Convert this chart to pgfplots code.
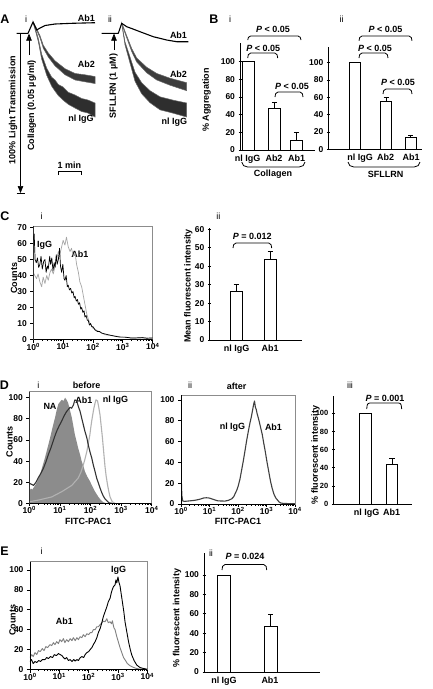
\documentclass[border=0pt]{standalone}
\usepackage{pgfplots}
\pgfplotsset{compat=1.18}
\usepackage{pgfplotstable}
\usepackage{fontspec}
\setmainfont{Liberation Sans}
\usetikzlibrary{arrows.meta}

% ---------- histogram data (lx = log10 of fluorescence, v = counts) ----------
\pgfplotstableread{
lx v
0 62
0.03 66
0.06 50
0.10 48
0.14 51
0.18 45
0.22 47
0.26 52
0.30 44
0.35 49
0.39 50
0.43 42
0.47 46
0.50 44
0.55 52
0.58 47
0.62 51
0.66 43
0.70 48
0.73 45
0.77 53
0.80 47
0.84 50
0.88 57
0.91 46
0.95 42
0.99 47
1.03 38
1.06 37
1.10 40
1.14 33
1.17 34
1.21 31
1.25 32
1.29 29
1.33 30
1.37 26
1.40 27
1.44 24
1.48 25
1.51 22
1.55 23
1.59 19
1.62 20
1.66 17
1.70 18
1.73 14
1.77 15
1.81 12
1.84 12
1.88 9
1.92 10
1.96 8
2.00 8
2.07 6
2.15 5
2.22 5
2.29 4
2.40 3.5
2.50 3
2.63 2.5
2.75 2
2.90 1.5
3.07 1.5
3.25 1
3.45 1
3.65 1.2
3.80 0.8
4.00 1
}\CiIgG
\pgfplotstableread{
lx v
0 42
0.05 40
0.11 38
0.16 41
0.22 36
0.28 33
0.33 39
0.39 35
0.45 40
0.50 37
0.56 42
0.61 44
0.67 41
0.73 46
0.78 50
0.84 55
0.89 53
0.95 58
1.00 62
1.06 59
1.11 64
1.17 58
1.23 55
1.28 57
1.34 52
1.40 54
1.45 47
1.51 42
1.56 36
1.62 33
1.68 27
1.73 22
1.79 16
1.84 13
1.90 10
2.00 7
2.10 6
2.20 5
2.40 3
2.60 2.5
2.80 2
3.00 1.5
3.30 1
3.60 1
4.00 0.8
}\CiAb
\pgfplotstableread{
lx v
0 11
0.05 14
0.10 13
0.19 17
0.27 21
0.35 27
0.43 35
0.51 43
0.60 53
0.68 62
0.76 72
0.84 81
0.90 89
0.95 94
1.00 96
1.06 98
1.12 97
1.17 100
1.22 98
1.27 95
1.33 88
1.39 81
1.44 73
1.49 65
1.55 58
1.60 52
1.66 46
1.71 40
1.77 35
1.82 30
1.90 25
1.98 21
2.06 16
2.15 11
2.26 6
2.34 3
2.42 1
2.53 0
}\DiNA
\pgfplotstableread{
lx v
0 19
0.07 18
0.14 17
0.22 20
0.29 24
0.37 28
0.46 33
0.54 39
0.62 46
0.70 52
0.78 59
0.84 64
0.89 68
0.97 73
1.06 78
1.14 83
1.22 87
1.28 89
1.33 91
1.38 90
1.44 93
1.49 98
1.55 97
1.60 92
1.66 87
1.71 81
1.76 75
1.82 68
1.88 62
1.93 55
1.98 49
2.04 43
2.09 36.5
2.15 30
2.20 24
2.26 19
2.31 14.6
2.37 10
2.42 6.7
2.48 4
2.53 2.5
2.60 0.5
2.70 0
}\DiAb
\pgfplotstableread{
lx v
0 1.5
0.29 3
0.73 6
1.06 11
1.39 17
1.60 24
1.68 29
1.76 36
1.82 42
1.88 49
1.93 57
1.98 65
2.01 72
2.04 78
2.08 85
2.11 90
2.15 95
2.18 98
2.23 97
2.27 91
2.31 84
2.35 73
2.39 62
2.43 49
2.47 36
2.51 26
2.56 17
2.60 11
2.64 6
2.71 1.5
2.80 0
}\DiIgG
\pgfplotstableread{
lx v
0 1.5
0.01 24
0.03 8
0.06 3
0.12 2.5
0.30 3
0.47 3.5
0.60 4.2
0.71 5
0.80 5.8
0.89 6
0.98 5.8
1.07 5
1.20 3.8
1.30 3
1.54 2.8
1.66 3.5
1.78 5
1.85 7
1.90 10
1.96 13.5
2.01 17.6
2.07 24
2.13 33
2.19 42
2.25 52
2.31 62
2.37 71
2.42 78
2.47 84
2.51 90
2.55 96
2.58 99
2.61 93
2.64 91
2.67 87
2.73 81
2.79 74
2.85 67
2.90 59
2.96 50
3.02 40
3.08 31
3.14 22
3.20 15
3.26 9.6
3.32 6
3.38 4
3.44 2
3.50 1
3.60 0.5
4.00 0.3
}\Dii
\pgfplotstableread{
lx v
0 8
0.05 10
0.11 6
0.17 8
0.23 7
0.30 9
0.36 8
0.42 10
0.51 10
0.57 12
0.63 11
0.70 13
0.77 12
0.83 15
0.90 14
0.97 16
1.03 15
1.09 14
1.14 12
1.19 10.6
1.25 12
1.31 9
1.37 10
1.43 8
1.49 10
1.54 8.5
1.60 10
1.65 9
1.71 11.8
1.77 13
1.83 12
1.88 15
1.94 17
2.00 18
2.05 20
2.11 22
2.16 25
2.22 28
2.28 32
2.33 37
2.39 41
2.45 47
2.50 53
2.56 58
2.62 63
2.67 68
2.73 71.5
2.78 78
2.84 83
2.90 85
2.93 90
2.96 87
3.00 93
3.03 88
3.07 84
3.11 76
3.15 68
3.20 58
3.24 48
3.30 38
3.36 28
3.42 20
3.47 14.6
3.55 9
3.64 4.5
3.75 2
3.87 1
4.00 0.3
}\EiIgG
\pgfplotstableread{
lx v
0 12
0.06 15
0.11 13
0.17 17
0.23 15
0.29 19
0.35 18
0.42 21
0.48 19
0.54 23
0.60 22
0.68 25
0.74 24
0.80 27
0.85 25
0.91 28
0.97 26
1.02 30
1.08 28
1.14 31
1.19 27
1.25 30
1.31 28
1.37 31
1.43 29
1.48 32
1.54 29
1.60 32
1.65 30
1.71 33
1.77 32
1.82 35
1.88 33
1.94 36
2.00 35
2.05 37
2.11 37
2.16 40
2.22 40
2.28 43
2.33 43
2.39 45
2.45 47
2.50 48.6
2.56 48
2.62 51
2.67 47
2.73 48
2.78 46
2.81 49
2.86 42
2.90 40
2.96 33
3.01 28
3.07 22
3.13 17
3.19 12
3.24 9.8
3.32 6
3.41 3.8
3.50 2.5
3.58 1.5
3.70 0.6
3.85 0.2
}\EiAb

\pgfplotsset{
  mybase/.style={scale only axis, anchor=south west,
    tick label style={font=\fontsize{8.5}{9}\selectfont\bfseries, /pgf/number format/assume math mode=true},
    tick style={black, line width=0.7pt},
    tick align=outside,
    major tick length=3pt, minor tick length=1.6pt},
  myhist/.style={mybase, xmin=0, xmax=4, ymin=0,
    xtick={0,1,2,3,4},
    xticklabels={10\textsuperscript{0},10\textsuperscript{1},10\textsuperscript{2},10\textsuperscript{3},10\textsuperscript{4}},
    minor xtick={0.301,0.477,0.602,0.699,0.778,0.845,0.903,0.954,
      1.301,1.477,1.602,1.699,1.778,1.845,1.903,1.954,
      2.301,2.477,2.602,2.699,2.778,2.845,2.903,2.954,
      3.301,3.477,3.602,3.699,3.778,3.845,3.903,3.954},
    xtick pos=left, ytick pos=left,
    every x tick label/.append style={yshift=3pt},
    axis line style={black!45, line width=0.6pt}},
  mybarax/.style={mybase, axis x line=bottom, axis y line=left,
    axis line style={-, line width=0.9pt}, ymin=0,
    every x tick label/.append style={font=\fontsize{9}{10}\selectfont\bfseries},
    major x tick style={draw=none}, ytick={0,20,...,100}},
  mybars/.style={ybar, fill=white, draw=black, line width=0.9pt,
    error bars/y dir=plus, error bars/y explicit,
    error bars/error bar style={line width=0.8pt, black},
    error bars/error mark options={rotate=90, mark size=2.6pt, line width=0.8pt, black}},
}
\tikzset{
  lab/.style={font=\fontsize{9}{10}\selectfont\bfseries, inner sep=0pt},
  sml/.style={font=\fontsize{9}{10}\selectfont, inner sep=0pt},
  pan/.style={font=\fontsize{12.5}{13}\selectfont\bfseries, inner sep=0pt},
}
\newcommand{\brk}[4]{\draw[line width=0.8pt] (#1,#3+#4) to[out=90,in=180] (#1+3,#3) -- (#2-3,#3) to[out=0,in=90] (#2,#3+#4);}
\newcommand{\brc}[3]{\draw[line width=0.8pt] (#1,#3-5) to[out=-90,in=180] (#1+6,#3) -- (#2-6,#3) to[out=0,in=-90] (#2,#3-5);}

\begin{document}
\begin{tikzpicture}
\useasboundingbox (0,0) rectangle (432pt,-689pt);
\fill[white] (0,0) rectangle (432pt,-689pt);

% ================= canvas axis (pixel coordinates) =================
\begin{axis}[scale only axis, at={(0pt,0pt)}, anchor=north west,
  width=432pt, height=689pt, xmin=0, xmax=432, ymin=0, ymax=689,
  y dir=reverse, hide axis, clip=false]
\addplot[fill=black!82, draw=black!60, line width=0.5pt] coordinates {
(33,21.5) (35.5,29) (38.3,38.5) (41.7,54.2) (46.7,68.2) (51.7,77.2) (55,80) (58.3,84.5) (63,87) (68.3,92.3) (75,95) (81.7,98.5) (88,100) (95,103)
(95,117) (88,113) (81.7,111.5) (75,108) (68.3,104.3) (63,100) (58.3,95.5) (55,91) (51.7,86.2) (46.7,75.2) (41.7,59.2) (38.3,41.5) (35.5,31) (33,22.5)} -- cycle;
\addplot[fill=black!78, draw=black!60, line width=0.5pt] coordinates {
(33,21.5) (36,27.25) (40,35.7) (43.3,45.2) (48.3,53) (55,60.8) (65,68.7) (75,73.45) (85,74.8) (95,76.5)
(95,83.5) (85,81.8) (75,79.95) (65,74.7) (55,65.8) (48.3,57) (43.3,48.2) (40,37.7) (36,28.75) (33,22.5)} -- cycle;
\addplot[black, line width=1.1pt, line join=round] coordinates {
(16.7,33.3) (28,33.3) (33,22) (36.7,30) (40,28) (45,25.5) (55,24) (71.7,23.3) (95,22.7)};
\addplot[fill=black!82, draw=black!60, line width=0.5pt] coordinates {
(121.7,22.8) (125,41.8) (130,57) (135,72.2) (141.7,82.8) (150,90.7) (160,96.8) (173.3,100.2) (186.7,103)
(186.7,117) (173.3,113.2) (160,109.8) (150,102.7) (141.7,93.8) (135,81.2) (130,63) (125,44.8) (121.7,23.8)} -- cycle;
\addplot[fill=black!76, draw=black!60, line width=0.5pt] coordinates {
(121.7,22.8) (126.7,35.7) (131.7,48.5) (136.7,58) (146.7,67.25) (156.7,73.45) (170,78.2) (186.7,82.7)
(186.7,90.7) (170,85.2) (156.7,79.95) (146.7,72.75) (136.7,62) (131.7,51.5) (126.7,37.7) (121.7,23.8)} -- cycle;
\addplot[black, line width=1.1pt, line join=round] coordinates {
(101.7,33.3) (118.3,33.3) (121.7,23.3) (126.7,26.7) (133,29) (140,31.7) (153.3,36.7) (166.7,40) (176.7,41.7) (188.3,41.7)};

\draw[line width=0.6pt, -{Triangle[width=5.5pt,length=7pt]}] (29,55) -- (29,33.6);
\draw[line width=0.6pt, -{Triangle[width=5.5pt,length=7pt]}] (114,50) -- (114,33.6);
\draw[line width=0.6pt, -{Triangle[width=5.5pt,length=7pt]}] (20.5,33.3) -- (20.5,193);
\draw[line width=0.9pt] (16.5,193.5) -- (24.5,193.5);
\draw[line width=0.9pt] (58.3,175) -- (58.3,171.7) -- (81.7,171.7) -- (81.7,175);

\node[pan] at (5,19) {A};
\node[sml] at (26,19) {i};
\node[sml] at (110,19) {ii};
\node[lab] at (86.5,18.5) {Ab1};
\node[lab] at (86.5,64) {Ab2};
\node[lab] at (81,119.5) {nl IgG};
\node[lab] at (178.5,35.5) {Ab1};
\node[lab] at (178.5,74) {Ab2};
\node[lab] at (174.3,122.5) {nl IgG};
\node[lab, rotate=90] at (31.7,105.5) {Collagen (0.05 µg/ml)};
\node[lab, rotate=90] at (113.5,86) {SFLLRN (1 µM)};
\node[lab, rotate=90] at (13,110) {100\% Light Transmission};
\node[lab] at (69.5,165) {1 min};

\node[pan] at (214,19.5) {B};
\node[sml] at (230,19.5) {i};
\node[sml] at (341.7,19.5) {ii};
\node[lab, rotate=90] at (206.5,100) {\% Aggregation};
\node[lab] at (273,29.3) {\textit{P} < 0.05};
\node[lab] at (263.3,48.3) {\textit{P} < 0.05};
\node[lab] at (292,86) {\textit{P} < 0.05};
\brk{247.7}{301}{36}{4}
\brk{247.7}{277.7}{53}{5}
\brk{275}{303}{92}{5}
\node[lab] at (385.5,29.3) {\textit{P} < 0.05};
\node[lab] at (375,48.3) {\textit{P} < 0.05};
\node[lab] at (398,82.7) {\textit{P} < 0.05};
\brk{359}{412}{36}{4.7}
\brk{359}{388}{53}{5}
\brk{383}{412}{89}{5}
\brc{241.7}{305}{167}
\brc{348}{420}{167}
\node[lab] at (273,174) {Collagen};
\node[lab] at (385.7,174) {SFLLRN};

\node[pan] at (5,216) {C};
\node[sml] at (41.7,216.7) {i};
\node[sml] at (218.3,216.7) {ii};
\node[lab] at (44.5,245) {IgG};
\node[lab] at (80,254) {Ab1};
\node[lab, rotate=90] at (14,278) {Counts};
\node[lab, rotate=90] at (188.3,286) {Mean fluorescent intensity};
\node[lab] at (252.3,236) {\textit{P} = 0.012};
\brk{233}{271.7}{243}{5}

\node[pan] at (4.5,385) {D};
\node[sml] at (38.3,385) {i};
\node[lab] at (86.7,385) {before};
\node[lab] at (50,406) {NA};
\node[lab] at (84,400) {Ab1};
\node[lab] at (115.5,400) {nl IgG};
\node[lab, rotate=90] at (9.5,441.7) {Counts};
\node[lab] at (88.3,521) {FITC-PAC1};
\node[sml] at (190,385) {ii};
\node[lab] at (236.7,386) {after};
\node[lab] at (232.5,427.5) {nl IgG};
\node[lab] at (273.5,427.5) {Ab1};
\node[lab] at (238,521) {FITC-PAC1};
\node[sml] at (350,385) {iii};
\node[lab, rotate=90] at (315.5,455) {\% fluorescent intensity};
\node[lab] at (385,398.3) {\textit{P} = 0.001};
\brk{366.7}{401.7}{403}{6}

\node[pan] at (4.5,551) {E};
\node[sml] at (41.7,551.7) {i};
\node[sml] at (211,553) {ii};
\node[lab] at (118.5,570) {IgG};
\node[lab] at (64.5,621.7) {Ab1};
\node[lab, rotate=90] at (12.5,620) {Counts};
\node[lab, rotate=90] at (177,618) {\% fluorescent intensity};
\node[lab] at (245,556) {\textit{P} = 0.024};
\brk{222}{266.7}{564.5}{5.5}
\end{axis}

% ================= B i =================
\begin{axis}[mybarax, at={(240pt,-150pt)}, width=75pt, height=107pt,
  xmin=240, xmax=315, ymax=121.2,
  xtick={247.7,274,296.7}, xticklabels={nl IgG,Ab2,Ab1}]
\addplot[bar width=12, mybars] coordinates {(248,100) +- (0,0) (274.5,47.2) +- (0,6.4) (296.5,10.5) +- (0,9.1)};
\end{axis}
% ================= B ii =================
\begin{axis}[mybarax, at={(328.3pt,-149.3pt)}, width=93.4pt, height=102.6pt,
  xmin=328.3, xmax=421.7, ymax=118.5,
  xtick={360,385.7,411}, xticklabels={nl IgG,Ab2,Ab1}]
\addplot[bar width=11, mybars] coordinates {(354.7,100) +- (0,0) (386.3,55.8) +- (0,4.2) (410.8,13.9) +- (0,2.6)};
\end{axis}

% ================= C i =================
\begin{axis}[myhist, at={(33.3pt,-339.5pt)}, width=119.4pt, height=113.6pt,
  ymax=71, ytick={0,10,...,70}]
\addplot[black!35, line width=0.7pt, line join=round] table[x=lx, y=v] \CiAb;
\addplot[black, line width=0.7pt, line join=round] table[x=lx, y=v] \CiIgG;
\draw[black, line width=0.8pt] (rel axis cs:0,1) -- (rel axis cs:0,0) -- (rel axis cs:1,0);
\end{axis}
% ================= C ii =================
\begin{axis}[mybarax, at={(209.3pt,-340pt)}, width=92.4pt, height=111.7pt,
  xmin=209.3, xmax=301.7, ymax=60.5, ytick={0,10,...,60},
  xtick={236.7,270}, xticklabels={nl IgG,Ab1}]
\addplot[bar width=12.7, mybars] coordinates {(236.3,26.2) +- (0,4) (270.3,43.7) +- (0,4.2)};
\end{axis}

% ================= D i =================
\begin{axis}[myhist, at={(29.3pt,-503.3pt)}, width=122.4pt, height=111.6pt,
  ymax=105.7, ytick={0,20,...,100}]
\addplot[fill=black!45, draw=none] table[x=lx, y=v] \DiNA \closedcycle;
\addplot[black!30, line width=1.1pt, line join=round] table[x=lx, y=v] \DiIgG;
\addplot[black!80, line width=1.1pt, line join=round] table[x=lx, y=v] \DiAb;
\draw[black, line width=0.8pt] (rel axis cs:0,1) -- (rel axis cs:0,0) -- (rel axis cs:1,0);
\end{axis}
% ================= D ii =================
\begin{axis}[myhist, at={(181pt,-504pt)}, width=114pt, height=109pt,
  ymax=104.8, ytick={0,20,...,100}]
\addplot[black!75, line width=1.1pt, line join=round] table[x=lx, y=v] \Dii;
\draw[black, line width=0.8pt] (rel axis cs:0,1) -- (rel axis cs:0,0) -- (rel axis cs:1,0);
\end{axis}
% ================= D iii =================
\begin{axis}[mybarax, at={(333.3pt,-504pt)}, width=78.4pt, height=108.3pt,
  xmin=333.3, xmax=411.7, ymax=119.4,
  every y tick label/.append style={font=\fontsize{7.5}{8}\selectfont\bfseries},
  xtick={366.7,391.7}, xticklabels={nl IgG,Ab1}]
\addplot[bar width=11.5, mybars] coordinates {(365.5,100) +- (0,0) (392,43.8) +- (0,6.6)};
\end{axis}

% ================= E i =================
\begin{axis}[myhist, at={(30pt,-669.5pt)}, width=117.3pt, height=108pt,
  ymax=108.5, ytick={0,20,...,100}]
\addplot[black!50, line width=0.9pt, line join=round] table[x=lx, y=v] \EiAb;
\addplot[black, line width=0.9pt, line join=round] table[x=lx, y=v] \EiIgG;
\draw[black, line width=0.8pt] (rel axis cs:0,1) -- (rel axis cs:0,0) -- (rel axis cs:1,0);
\end{axis}
% ================= E ii =================
\begin{axis}[mybarax, at={(204pt,-672pt)}, width=116pt, height=118.7pt,
  xmin=204, xmax=320, ymax=122.4,
  xtick={224,270}, xticklabels={nl IgG,Ab1}]
\addplot[bar width=13, mybars] coordinates {(224.2,100) +- (0,0) (270.8,47) +- (0,12)};
\end{axis}
\end{tikzpicture}
\end{document}
